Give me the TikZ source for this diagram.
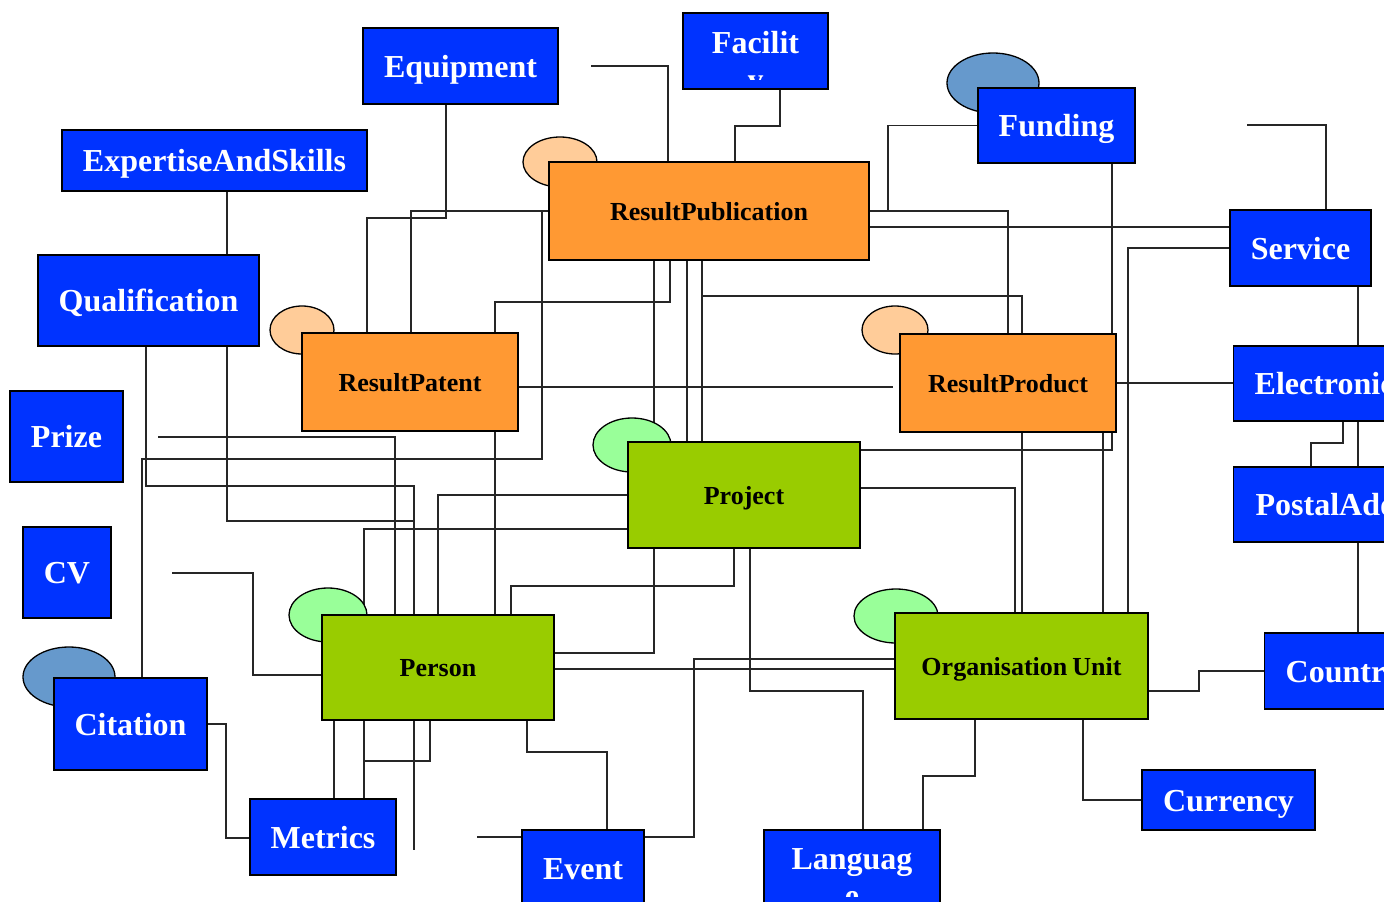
\documentclass[tikz,border=0pt]{standalone}
\usepackage{fontspec}
\setmainfont{Liberation Serif}
\usepackage{tikz}
\usetikzlibrary{backgrounds}
\definecolor{entblue}{HTML}{0033FF}
\definecolor{resorange}{HTML}{FF9933}
\definecolor{coregreen}{HTML}{99CC00}
\definecolor{peach}{HTML}{FFCC99}
\definecolor{mint}{HTML}{99FF99}
\definecolor{steel}{HTML}{6699CC}

\begin{document}
\begin{tikzpicture}[line join=miter,x=1pt,y=-1pt,
  ent/.style={draw=black,line width=1.3pt,fill=entblue,text=white,inner sep=0pt,
    font=\fontsize{32}{38}\selectfont\bfseries,text height=22pt,text depth=0pt},
  res/.style={draw=black,line width=1.3pt,fill=resorange,text=black,inner sep=0pt,
    font=\fontsize{26}{31}\selectfont\bfseries,text height=18pt,text depth=0pt},
  core/.style={res,fill=coregreen},
  link/.style={line width=1.1pt,color=black!85}]
      \useasboundingbox (0,0) rectangle (1384,902);
      \clip (0,0) rectangle (1384,902);
      \foreach \cx/\cy/\rx/\ry/\tint in {560/162/37/25/peach,302/330/32/24/peach,895/330/33/24/peach,
        632/445/39/27/mint,328/615/39/27/mint,896/616/42/27/mint,993/83/46/30/steel,69/677/46/30/steel}
      \draw[line width=1.3pt,fill=\tint] (\cx,\cy) ellipse [x radius=\rx,y radius=\ry];
      \node[ent,minimum width=195pt,minimum height=76pt] (equip) at (460.5,66) {Equipment};
      \node[ent,minimum width=145pt,minimum height=76pt] (facil) at (755.5,51) {};
      \node[ent,minimum width=305pt,minimum height=61pt] (expert) at (214.5,160.5) {ExpertiseAndSkills};
      \node[ent,minimum width=221pt,minimum height=91pt] (qualif) at (148.5,300.5) {Qualification};
      \node[ent,minimum width=113pt,minimum height=91pt] (prize) at (66.5,436.5) {Prize};
      \node[ent,minimum width=88pt,minimum height=91pt] (cv) at (67,572.5) {CV};
      \node[ent,minimum width=153pt,minimum height=92pt] (citation) at (130.5,724) {Citation};
      \node[ent,minimum width=146pt,minimum height=76pt] (metrics) at (323,837) {Metrics};
      \node[ent,minimum width=122pt,minimum height=76pt] (event) at (583,868) {Event};
      \node[ent,minimum width=176pt,minimum height=76pt] (language) at (852,868) {};
      \node[ent,minimum width=173pt,minimum height=60pt] (currency) at (1228.5,800) {Currency};
      \node[ent,anchor=west,inner xsep=21pt,minimum height=76pt] (country) at (1264,671) {Country};
      \node[ent,anchor=west,inner xsep=22pt,minimum height=75pt] (postal) at (1233,504.5) {PostalAddress};
      \node[ent,anchor=west,inner xsep=21pt,minimum height=75pt] (electronic) at (1233,383.5) {ElectronicAddress};
      \node[ent,minimum width=141pt,minimum height=76pt] (service) at (1300.5,248) {Service};
      \node[ent,minimum width=157pt,minimum height=75pt] (funding) at (1056.5,125.5) {Funding};
      \node[res,minimum width=320pt,minimum height=98pt] (respub) at (709,211) {ResultPublication};
      \node[res,minimum width=216pt,minimum height=98pt] (respat) at (410,382) {ResultPatent};
      \node[res,minimum width=216pt,minimum height=98pt] (resprod) at (1008,383) {ResultProduct};
      \node[core,minimum width=232pt,minimum height=106pt] (project) at (744,495) {Project};
      \node[core,minimum width=232pt,minimum height=105pt] (person) at (438,667.5) {Person};
      \node[core,minimum width=253pt,minimum height=106pt] (orgunit) at (1021.5,666) {Organisation\kern5pt Unit};
      \begin{scope}
      \clip (684,14) rectangle (827,79);
      \node[ent,draw=none,fill=none,anchor=base] (faciltop) at (755.5,53) {Facilit};
      \node[ent,draw=none,fill=none,anchor=base] (facilcut) at (755.5,90) {y};
      \end{scope}
      \begin{scope}
      \clip (765,831) rectangle (939,896);
      \node[ent,draw=none,fill=none,anchor=base] (langtop) at (852,869) {Languag};
      \node[ent,draw=none,fill=none,anchor=base] (langcut) at (852,906) {e};
      \end{scope}
      \coordinate (pubstub) at (591,66);
      \coordinate (servstub) at (1247,125);
      \coordinate (prizestub) at (158,437);
      \coordinate (cvstub) at (172,573);
      \coordinate (personstub) at (414,850);
      \coordinate (eventstub) at (477,837);
      \begin{scope}[on background layer]
      \draw[link] (227,0 |- expert.south) |- (414,521) -- (414,0 |- person.north);
      \draw[link] (146,0 |- qualif.south) |- (414,486) -- (414,0 |- person.north);
      \draw[link] (446,0 |- equip.south) -- (446,218) -| (367,0 |- respat.north);
      \draw[link] (respub.west) -| (411,0 |- respat.north);
      \draw[link] (respub.west) -- (542,211) |- (142,459) -- (142,0 |- citation.north);
      \draw[link] (pubstub) -| (668,0 |- respub.north);
      \draw[link] (780,0 |- facil.south) -- (780,126) -| (735,0 |- respub.north);
      \draw[link] (respub.east) -- (888,211) |- (funding.west);
      \draw[link] (respub.east) -| (1008,0 |- resprod.north);
      \draw[link] (respub.east |- 0,227) -- (service.west |- 0,227);
      \draw[link] (670,0 |- respub.south) |- (495,302) -- (495,0 |- respat.north);
      \draw[link] (495,0 |- respat.south) -- (495,0 |- person.north);
      \draw[link] (654,0 |- respub.south) -- (654,0 |- project.north);
      \draw[link] (654,0 |- project.south) |- (person.east |- 0,653);
      \draw[link] (687,0 |- respub.south) -- (687,0 |- project.north);
      \draw[link] (702,0 |- respub.south) -- (702,0 |- project.north);
      \draw[link] (702,0 |- respub.south) |- (1022,296) -- (1022,0 |- orgunit.north);
      \draw[link] (1112,0 |- funding.south) |- (project.east |- 0,450);
      \draw[link] (servstub) -| (1326,0 |- service.north);
      \draw[link] (service.west) -| (1128,0 |- orgunit.north);
      \draw[link] (1358,0 |- service.south) -- (1358,0 |- country.north);
      \draw[link] (1343,0 |- electronic.south) |- (1311,443) -- (1311,0 |- postal.north);
      \draw[link] (resprod.east |- 0,383) -- (electronic.west |- 0,383);
      \draw[link,shorten >=6pt] (respat.east |- 0,387) -- (resprod.west |- 0,387);
      \draw[link] (project.east |- 0,488) -| (1015,0 |- orgunit.north);
      \draw[link] (1103,0 |- resprod.south) -- (1103,0 |- orgunit.north);
      \draw[link] (prizestub) -| (395,0 |- person.north);
      \draw[link] (project.west |- 0,495) -| (438,0 |- person.north);
      \draw[link] (project.west |- 0,529) -| (364,0 |- person.north);
      \draw[link] (cvstub) -| (253,675) -- (person.west |- 0,675);
      \draw[link] (334,0 |- person.south) -- (334,0 |- metrics.north);
      \draw[link] (364,0 |- person.south) -- (364,0 |- metrics.north);
      \draw[link] (430,0 |- person.south) |- (364,761);
      \draw[link] (414,0 |- person.south) -- (personstub);
      \draw[link] (citation.east) -| (226,838) -- (metrics.west |- 0,838);
      \draw[link] (527,0 |- person.south) |- (607,752) -- (607,0 |- event.north);
      \draw[link] (person.east |- 0,669) -- (orgunit.west |- 0,669);
      \draw[link] (orgunit.west |- 0,659) -| (694,837) -- (event.east |- 0,837);
      \draw[link] (eventstub) -- (event.west |- 0,837);
      \draw[link] (750,0 |- project.south) |- (863,691) -- (863,0 |- language.north);
      \draw[link] (734,0 |- project.south) |- (511,586) -- (511,0 |- person.north);
      \draw[link] (975,0 |- orgunit.south) |- (923,776) -- (923,0 |- language.north);
      \draw[link] (1083,0 |- orgunit.south) |- (currency.west);
      \draw[link] (orgunit.east |- 0,691) -| (1199,671) -- (country.west);
      \end{scope}
    \end{tikzpicture}
\end{document}
